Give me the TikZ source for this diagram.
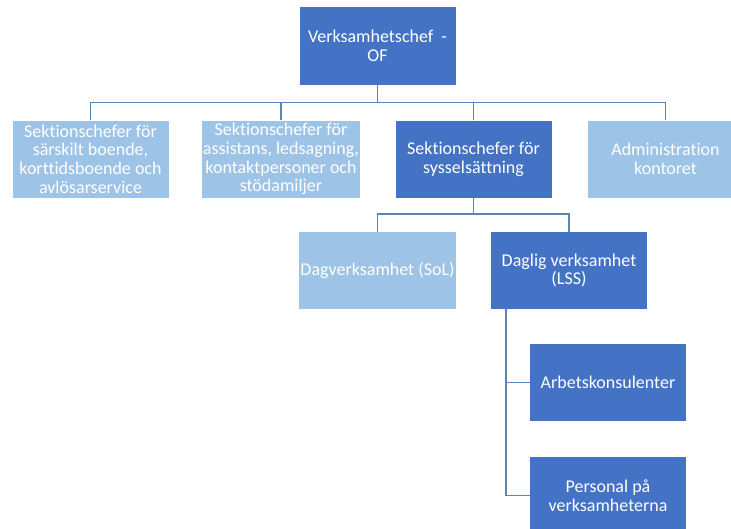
\documentclass[tikz,border=0pt]{standalone}
\usepackage{fontspec}
\setmainfont{Carlito}[Ligatures={NoCommon}]
\definecolor{dark}{HTML}{4472C4}
\definecolor{light}{HTML}{9DC3E6}
\definecolor{linec}{HTML}{5B85B2}
\begin{document}
\begin{tikzpicture}[x=1pt,y=-1pt,
  box/.style={minimum width=156pt,minimum height=77pt,inner sep=1pt,align=center,text=white,
    font=\fontsize{18}{18.7}\selectfont},
  darkbox/.style={box,fill=dark},
  lightbox/.style={box,fill=light},
  conn/.style={draw=linec,line width=1.4pt}]
\useasboundingbox (0,0) rectangle (731,528);
\node[darkbox,minimum height=78pt] (top) at (377.5,46) {Verksamhetschef\ \ -\\OF};
\node[lightbox] (b1) at (90.5,159) {Sektionschefer för\\särskilt boende,\\korttidsboende och\\avlösarservice};
\node[lightbox] (b2) at (281,159) {Sektionschefer för\\assistans, ledsagning,\\kontaktpersoner och\\stödamiljer};
\node[darkbox] (b3) at (473.5,159) {Sektionschefer för\\sysselsättning};
\node[lightbox] (b4) at (665.5,159) {Administration\\kontoret};
\node[lightbox] (d1) at (377.5,270.5) {Dagverksamhet (SoL)};
\node[darkbox] (d2) at (569,270.5) {Daglig verksamhet\\(LSS)};
\node[darkbox] (a1) at (608,382.5) {Arbetskonsulenter};
\node[darkbox] (p1) at (608,495.5) {Personal på\\verksamheterna};
\coordinate (h1) at (377.5,102.5);
\coordinate (h2) at (473.5,214);
\draw[conn] (top.south) -- (h1);
\draw[conn] (b1.north) -- (b1.north |- h1) -- (b4.north |- h1) -- (b4.north);
\draw[conn] (b2.north) -- (b2.north |- h1);
\draw[conn] (b3.north) -- (b3.north |- h1);
\draw[conn] (b3.south) -- (h2);
\draw[conn] (d1.north) -- (d1.north |- h2) -- (d2.north |- h2) -- (d2.north);
\coordinate (s) at (506,309);
\draw[conn] (s) -- (s |- p1.west) -- (p1.west);
\draw[conn] (s |- a1.west) -- (a1.west);
\end{tikzpicture}
\end{document}
